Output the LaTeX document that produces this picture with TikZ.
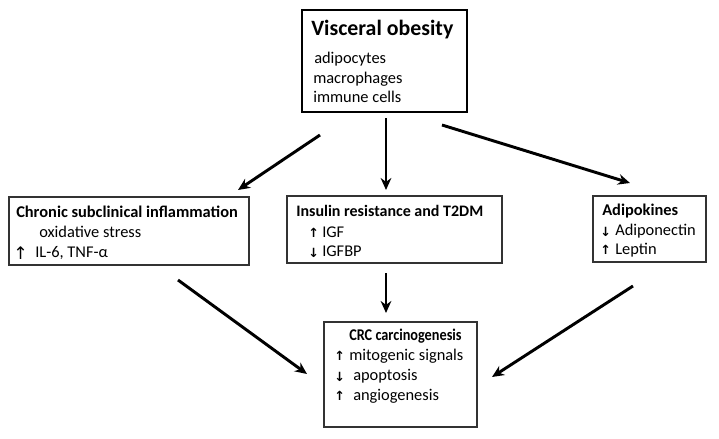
\documentclass[tikz,border=0pt]{standalone}
\usepackage{fontspec}
\setmainfont{Carlito}
\newfontfamily\symf{DejaVu Sans}
\newfontfamily\narrowf[FakeStretch=0.87]{Carlito}
\usetikzlibrary{arrows.meta}
\begin{document}
\begin{tikzpicture}[x=0.75pt,y=-0.75pt,
  box/.style={draw=black!80,line width=0.8pt,inner sep=0pt},
  topbox/.style={draw=black,line width=2.2pt,inner sep=0pt},
  txt/.style={anchor=base west,inner sep=0pt,font=\fontsize{12.3pt}{14pt}\selectfont},
  ttl/.style={anchor=base west,inner sep=0pt,font=\fontsize{12.3pt}{14pt}\selectfont\bfseries},
  sym/.style={anchor=base west,inner sep=0pt,font=\fontsize{9.5pt}{10pt}\symf\bfseries},
  arr/.style={line width=2.2pt,-{Stealth[length=9pt,width=8pt]}}]
\useasboundingbox (0,0) rectangle (719,439);
% boxes
\node[topbox,minimum width=123.75pt,minimum height=76.5pt] (top) at (384.5,61) {};
\node[box,minimum width=180pt,minimum height=51pt] (left) at (129,231) {};
\node[box,minimum width=161.25pt,minimum height=50.25pt] (mid) at (394.5,229.5) {};
\node[box,minimum width=84.75pt,minimum height=49.5pt] (right) at (649.5,229) {};
\node[box,minimum width=114.75pt,minimum height=78.75pt] (bot) at (400.5,374.5) {};
% top texts
\node[anchor=base west,inner sep=0pt,font=\fontsize{16.4pt}{18pt}\selectfont\bfseries] (t0) at (311,36) {Visceral obesity};
\node[txt] (t1) at (314,63) {adipocytes};
\node[txt] (t2) at (313,83) {macrophages};
\node[txt] (t3) at (313,102) {immune cells};
% left
\node[ttl] (l0) at (16,217) {Chronic subclinical inflammation};
\node[txt] (l1) at (39,237) {oxidative stress};
\node[sym,font=\fontsize{13pt}{14pt}\symf] (l2a) at (13,259) {↑};
\node[txt] (l2) at (35,257) {IL-6, TNF-α};
% middle
\node[ttl,font=\fontsize{12pt}{14pt}\selectfont\bfseries] (m0) at (296,216) {Insulin resistance and T2DM};
\node[sym] (m1a) at (308,237) {↑};
\node[txt] (m1) at (322,237) {IGF};
\node[sym] (m2a) at (308,257) {↓};
\node[txt] (m2) at (322,256) {IGFBP};
% right
\node[ttl] (r0) at (602,215) {Adipokines};
\node[sym] (r1a) at (600,236) {↓};
\node[txt] (r1) at (615,235) {Adiponectin};
\node[sym] (r2a) at (600,254) {↑};
\node[txt] (r2) at (615,254) {Leptin};
% bottom
\node[ttl,font=\fontsize{12.3pt}{14pt}\narrowf\bfseries] (b0) at (349,340) {CRC carcinogenesis};
\node[sym] (b1a) at (334,360) {↑};
\node[txt] (b1) at (349,360) {mitogenic signals};
\node[sym] (b2a) at (334,381) {↓};
\node[txt] (b2) at (353,380) {apoptosis};
\node[sym] (b3a) at (334,400) {↑};
\node[txt] (b3) at (353,400) {angiogenesis};
% arrow endpoints
\coordinate (a1s) at (320,135); \coordinate (a1e) at (238,190);
\coordinate (a2s) at (386,118); \coordinate (a2e) at (386,190);
\coordinate (a3s) at (442,125); \coordinate (a3e) at (630,183);
\coordinate (a4s) at (178,280); \coordinate (a4e) at (307,374);
\coordinate (a5s) at (386,273); \coordinate (a5e) at (386,313);
\coordinate (a6s) at (633,286); \coordinate (a6e) at (492,377);
\draw[arr] (a1s) -- (a1e);
\draw[arr] (a2s) -- (a2e);
\draw[arr] (a3s) -- (a3e);
\draw[arr] (a4s) -- (a4e);
\draw[arr] (a5s) -- (a5e);
\draw[arr] (a6s) -- (a6e);
\end{tikzpicture}
\end{document}
